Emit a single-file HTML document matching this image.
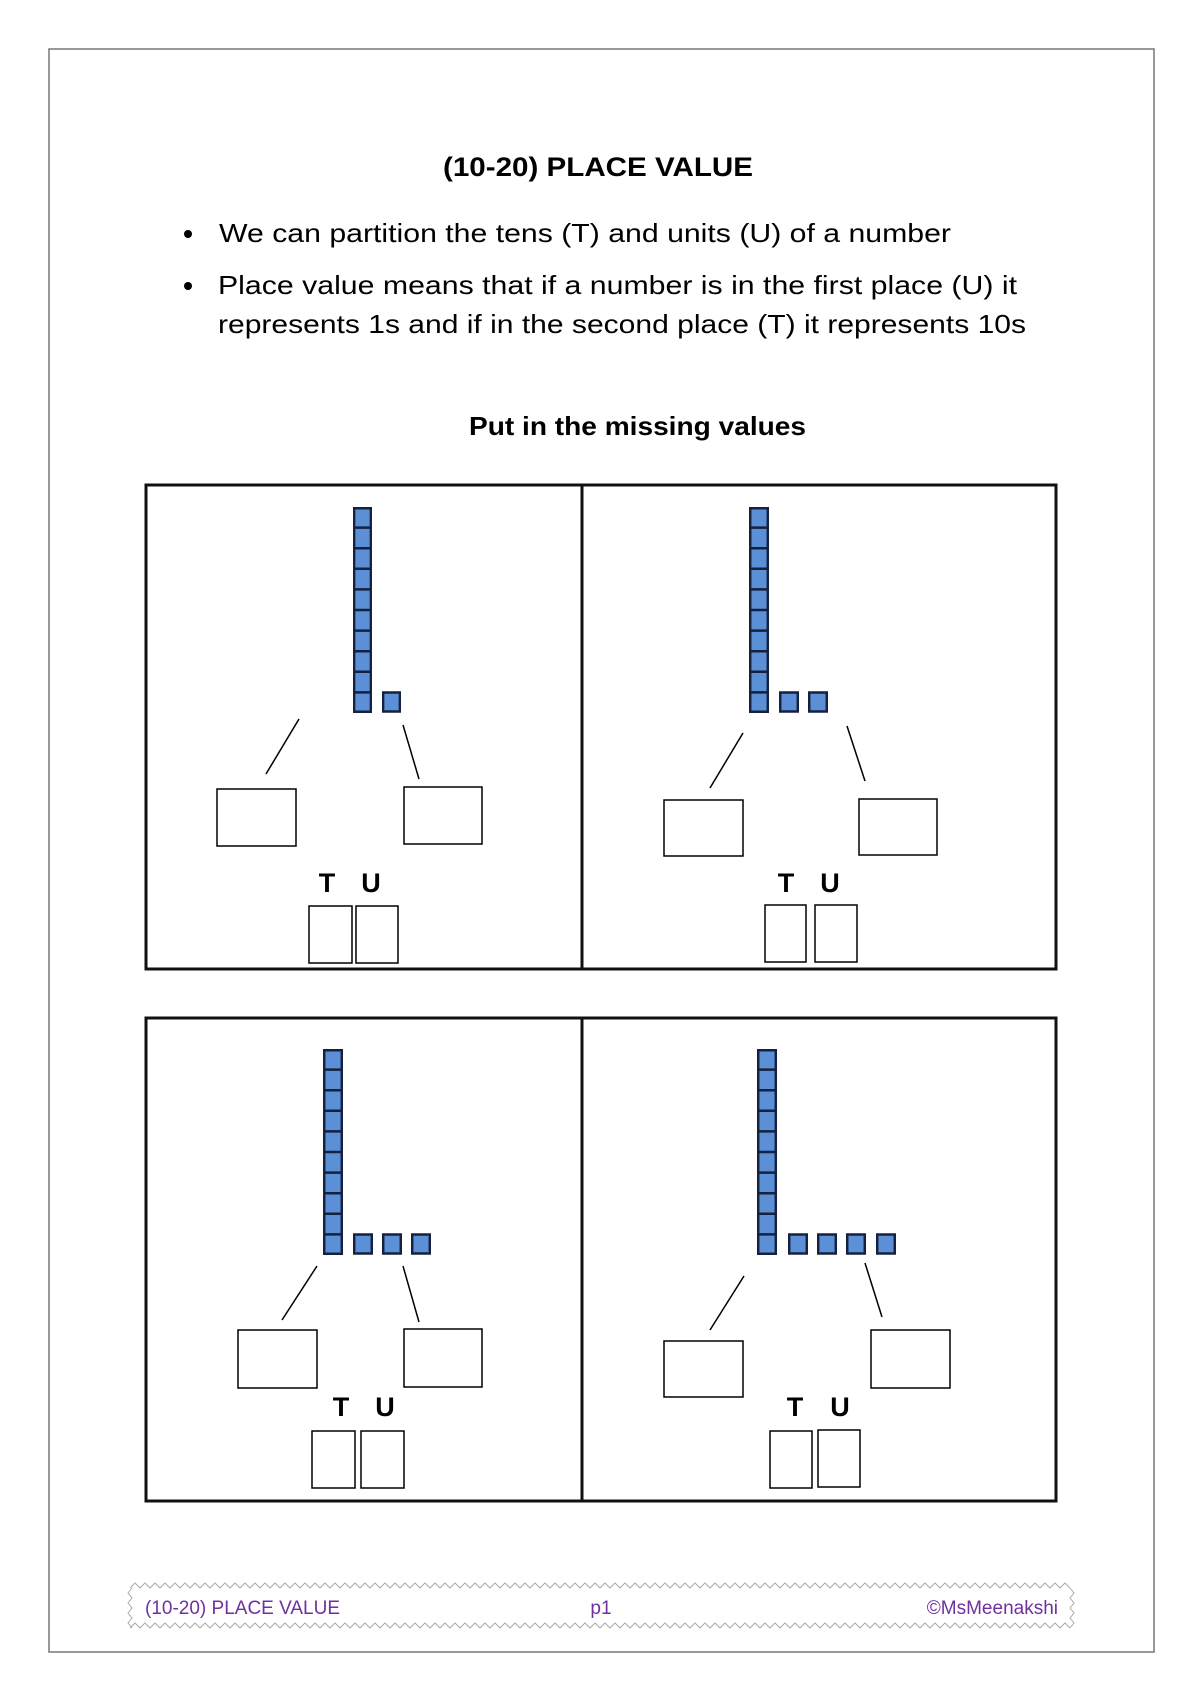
<!DOCTYPE html>
<html><head><meta charset="utf-8"><style>
html,body{margin:0;padding:0;background:#fff;}
svg{display:block;}
text{font-family:"Liberation Sans",sans-serif;}
</style></head><body>
<svg width="1200" height="1697" viewBox="0 0 1200 1697" xmlns="http://www.w3.org/2000/svg">
<defs>
<symbol id="rod" viewBox="0 0 20 206" preserveAspectRatio="none">
<rect x="0" y="0" width="20" height="206" fill="#5b8fd6"/>
<g stroke="#16213f" stroke-width="2.5">
<line x1="0" y1="1.2" x2="20" y2="1.2"/><line x1="0" y1="20.6" x2="20" y2="20.6"/><line x1="0" y1="41.2" x2="20" y2="41.2"/><line x1="0" y1="61.8" x2="20" y2="61.8"/><line x1="0" y1="82.4" x2="20" y2="82.4"/><line x1="0" y1="103" x2="20" y2="103"/><line x1="0" y1="123.6" x2="20" y2="123.6"/><line x1="0" y1="144.2" x2="20" y2="144.2"/><line x1="0" y1="164.8" x2="20" y2="164.8"/><line x1="0" y1="185.4" x2="20" y2="185.4"/><line x1="0" y1="204.8" x2="20" y2="204.8"/>
<line x1="1.2" y1="0" x2="1.2" y2="206"/><line x1="18.8" y1="0" x2="18.8" y2="206"/>
</g>
</symbol>
<symbol id="cube" viewBox="0 0 20 22" preserveAspectRatio="none">
<rect x="1.2" y="1.5" width="17.6" height="19" fill="#5b8fd6" stroke="#16213f" stroke-width="2.5"/>
</symbol>
</defs>
<rect x="49" y="49" width="1105" height="1603" fill="none" stroke="#777" stroke-width="1.5"/>
<text x="443" y="176" font-size="27" font-weight="bold" textLength="310" lengthAdjust="spacingAndGlyphs">(10-20) PLACE VALUE</text>
<circle cx="188" cy="234" r="4" fill="#000"/>
<text x="219" y="242" font-size="26" textLength="732" lengthAdjust="spacingAndGlyphs">We can partition the tens (T) and units (U) of a number</text>
<circle cx="188" cy="286" r="4" fill="#000"/>
<text x="218" y="294" font-size="26" textLength="799" lengthAdjust="spacingAndGlyphs">Place value means that if a number is in the first place (U) it</text>
<text x="218" y="333" font-size="26" textLength="808" lengthAdjust="spacingAndGlyphs">represents 1s and if in the second place (T) it represents 10s</text>
<text x="469" y="435" font-size="26" font-weight="bold" textLength="337" lengthAdjust="spacingAndGlyphs">Put in the missing values</text>

<g fill="none" stroke="#111" stroke-width="3">
<rect x="146" y="485" width="910" height="484"/>
<line x1="582" y1="485" x2="582" y2="969"/>
<rect x="146" y="1018" width="910" height="483"/>
<line x1="582" y1="1018" x2="582" y2="1501"/>
</g>

<g stroke="#000" stroke-width="1.5" fill="none">
<line x1="299" y1="719" x2="266" y2="774"/><line x1="403" y1="725" x2="419" y2="779"/>
<rect x="217" y="789" width="79" height="57"/><rect x="404" y="787" width="78" height="57"/>
<rect x="309" y="906" width="43" height="57"/><rect x="356" y="906" width="42" height="57"/>

<line x1="743" y1="733" x2="710" y2="788"/><line x1="847" y1="726" x2="865" y2="781"/>
<rect x="664" y="800" width="79" height="56"/><rect x="859" y="799" width="78" height="56"/>
<rect x="765" y="905" width="41" height="57"/><rect x="815" y="905" width="42" height="57"/>

<line x1="317" y1="1266" x2="282" y2="1320"/><line x1="403" y1="1266" x2="419" y2="1322"/>
<rect x="238" y="1330" width="79" height="58"/><rect x="404" y="1329" width="78" height="58"/>
<rect x="312" y="1431" width="43" height="57"/><rect x="361" y="1431" width="43" height="57"/>

<line x1="744" y1="1276" x2="710" y2="1330"/><line x1="865" y1="1263" x2="882" y2="1317"/>
<rect x="664" y="1341" width="79" height="56"/><rect x="871" y="1330" width="79" height="58"/>
<rect x="770" y="1431" width="42" height="57"/><rect x="818" y="1430" width="42" height="57"/>
</g>

<g font-size="27" font-weight="bold" text-anchor="middle">
<text x="327" y="892">T</text><text x="371" y="892">U</text>
<text x="786" y="892">T</text><text x="830" y="892">U</text>
<text x="341" y="1416">T</text><text x="385" y="1416">U</text>
<text x="795" y="1416">T</text><text x="840" y="1416">U</text>
</g>

<use href="#rod" x="353" y="507" width="19" height="206"/>
<use href="#cube" x="382" y="691" width="19" height="22"/>

<use href="#rod" x="749" y="507" width="20" height="206"/>
<use href="#cube" x="779" y="691" width="20" height="22"/>
<use href="#cube" x="808" y="691" width="20" height="22"/>

<use href="#rod" x="323" y="1049" width="20" height="206"/>
<use href="#cube" x="353" y="1233" width="20" height="22"/>
<use href="#cube" x="382" y="1233" width="20" height="22"/>
<use href="#cube" x="411" y="1233" width="20" height="22"/>

<use href="#rod" x="757" y="1049" width="20" height="206"/>
<use href="#cube" x="788" y="1233" width="20" height="22"/>
<use href="#cube" x="817" y="1233" width="20" height="22"/>
<use href="#cube" x="846" y="1233" width="20" height="22"/>
<use href="#cube" x="876" y="1233" width="20" height="22"/>

<g fill="none" stroke="#aaa" stroke-width="1">
<polyline points="130,1588 135,1583 140,1588 145,1583 150,1588 155,1583 160,1588 165,1583 170,1588 175,1583 180,1588 185,1583 190,1588 195,1583 200,1588 205,1583 210,1588 215,1583 220,1588 225,1583 230,1588 235,1583 240,1588 245,1583 250,1588 255,1583 260,1588 265,1583 270,1588 275,1583 280,1588 285,1583 290,1588 295,1583 300,1588 305,1583 310,1588 315,1583 320,1588 325,1583 330,1588 335,1583 340,1588 345,1583 350,1588 355,1583 360,1588 365,1583 370,1588 375,1583 380,1588 385,1583 390,1588 395,1583 400,1588 405,1583 410,1588 415,1583 420,1588 425,1583 430,1588 435,1583 440,1588 445,1583 450,1588 455,1583 460,1588 465,1583 470,1588 475,1583 480,1588 485,1583 490,1588 495,1583 500,1588 505,1583 510,1588 515,1583 520,1588 525,1583 530,1588 535,1583 540,1588 545,1583 550,1588 555,1583 560,1588 565,1583 570,1588 575,1583 580,1588 585,1583 590,1588 595,1583 600,1588 605,1583 610,1588 615,1583 620,1588 625,1583 630,1588 635,1583 640,1588 645,1583 650,1588 655,1583 660,1588 665,1583 670,1588 675,1583 680,1588 685,1583 690,1588 695,1583 700,1588 705,1583 710,1588 715,1583 720,1588 725,1583 730,1588 735,1583 740,1588 745,1583 750,1588 755,1583 760,1588 765,1583 770,1588 775,1583 780,1588 785,1583 790,1588 795,1583 800,1588 805,1583 810,1588 815,1583 820,1588 825,1583 830,1588 835,1583 840,1588 845,1583 850,1588 855,1583 860,1588 865,1583 870,1588 875,1583 880,1588 885,1583 890,1588 895,1583 900,1588 905,1583 910,1588 915,1583 920,1588 925,1583 930,1588 935,1583 940,1588 945,1583 950,1588 955,1583 960,1588 965,1583 970,1588 975,1583 980,1588 985,1583 990,1588 995,1583 1000,1588 1005,1583 1010,1588 1015,1583 1020,1588 1025,1583 1030,1588 1035,1583 1040,1588 1045,1583 1050,1588 1055,1583 1060,1588 1065,1583 1070,1588"/>
<polyline points="130,1628 135,1623 140,1628 145,1623 150,1628 155,1623 160,1628 165,1623 170,1628 175,1623 180,1628 185,1623 190,1628 195,1623 200,1628 205,1623 210,1628 215,1623 220,1628 225,1623 230,1628 235,1623 240,1628 245,1623 250,1628 255,1623 260,1628 265,1623 270,1628 275,1623 280,1628 285,1623 290,1628 295,1623 300,1628 305,1623 310,1628 315,1623 320,1628 325,1623 330,1628 335,1623 340,1628 345,1623 350,1628 355,1623 360,1628 365,1623 370,1628 375,1623 380,1628 385,1623 390,1628 395,1623 400,1628 405,1623 410,1628 415,1623 420,1628 425,1623 430,1628 435,1623 440,1628 445,1623 450,1628 455,1623 460,1628 465,1623 470,1628 475,1623 480,1628 485,1623 490,1628 495,1623 500,1628 505,1623 510,1628 515,1623 520,1628 525,1623 530,1628 535,1623 540,1628 545,1623 550,1628 555,1623 560,1628 565,1623 570,1628 575,1623 580,1628 585,1623 590,1628 595,1623 600,1628 605,1623 610,1628 615,1623 620,1628 625,1623 630,1628 635,1623 640,1628 645,1623 650,1628 655,1623 660,1628 665,1623 670,1628 675,1623 680,1628 685,1623 690,1628 695,1623 700,1628 705,1623 710,1628 715,1623 720,1628 725,1623 730,1628 735,1623 740,1628 745,1623 750,1628 755,1623 760,1628 765,1623 770,1628 775,1623 780,1628 785,1623 790,1628 795,1623 800,1628 805,1623 810,1628 815,1623 820,1628 825,1623 830,1628 835,1623 840,1628 845,1623 850,1628 855,1623 860,1628 865,1623 870,1628 875,1623 880,1628 885,1623 890,1628 895,1623 900,1628 905,1623 910,1628 915,1623 920,1628 925,1623 930,1628 935,1623 940,1628 945,1623 950,1628 955,1623 960,1628 965,1623 970,1628 975,1623 980,1628 985,1623 990,1628 995,1623 1000,1628 1005,1623 1010,1628 1015,1623 1020,1628 1025,1623 1030,1628 1035,1623 1040,1628 1045,1623 1050,1628 1055,1623 1060,1628 1065,1623 1070,1628"/>
<polyline points="132,1588 128,1593 132,1598 128,1603 132,1608 128,1613 132,1618 128,1623 132,1628"/>
<polyline points="1070,1588 1074,1593 1070,1598 1074,1603 1070,1608 1074,1613 1070,1618 1074,1623 1070,1628"/>
</g>
<g font-size="19" fill="#7030a0">
<text x="145" y="1614">(10-20) PLACE VALUE</text>
<text x="601" y="1614" text-anchor="middle">p1</text>
<text x="1058" y="1614" text-anchor="end">©MsMeenakshi</text>
</g>
</svg>
</body></html>
